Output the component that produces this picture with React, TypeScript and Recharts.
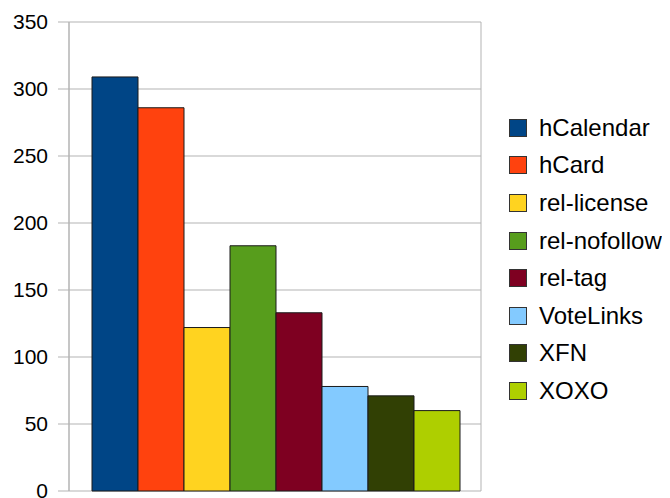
import React from 'react';
import { BarChart, Bar, XAxis, YAxis, CartesianGrid, Legend } from 'recharts';

const seriesNames = ['hCalendar', 'hCard', 'rel-license', 'rel-nofollow', 'rel-tag', 'VoteLinks', 'XFN', 'XOXO'];
const seriesValues = [309, 286, 122, 183, 133, 78, 71, 60];
const seriesColors = ['#004586', '#ff420e', '#ffd320', '#579d1c', '#7e0021', '#83caff', '#314004', '#aecf00'];
const yTicks = [0, 50, 100, 150, 200, 250, 300, 350];

const row: Record<string, any> = { name: '' };
seriesNames.forEach((n, i) => {
  row[n] = seriesValues[i];
});
const data = [row];

const FONT = '"Liberation Sans", Arial, sans-serif';

const renderLegend = () => (
  <div style={{ fontFamily: FONT }}>
    {seriesNames.map((n, i) => (
      <div key={n} style={{ height: 37.6, display: 'flex', alignItems: 'center' }}>
        <div
          style={{
            width: 18,
            height: 18,
            background: seriesColors[i],
            border: '1px solid #333',
            boxSizing: 'border-box',
            marginRight: 12,
            flex: 'none',
          }}
        />
        <span style={{ fontSize: 24, color: '#000', whiteSpace: 'nowrap' }}>{n}</span>
      </div>
    ))}
  </div>
);

export default function App() {
  return (
    <BarChart
      width={662}
      height={490}
      data={data}
      margin={{ top: 14, right: 189, bottom: 7, left: 0 }}
      barCategoryGap={23}
      barGap={0}
    >
      <CartesianGrid
        stroke="#b3b3b3"
        verticalCoordinatesGenerator={({ offset }: any) => [offset.left, offset.left + offset.width]}
      />
      <XAxis dataKey="name" hide />
      <YAxis
        domain={[0, 350]}
        ticks={yTicks}
        width={61}
        tickSize={11}
        tickMargin={10}
        axisLine={{ stroke: '#b3b3b3' }}
        tickLine={{ stroke: '#b3b3b3' }}
        tick={{ fontFamily: FONT, fontSize: 21, fill: '#000' }}
        interval={0}
      />
      <Legend
        layout="vertical"
        align="center"
        verticalAlign="middle"
        content={renderLegend}
        wrapperStyle={{ position: 'absolute', left: 501, top: 101, width: 161 }}
      />
      {seriesNames.map((n, i) => (
        <Bar
          key={n}
          dataKey={n}
          name={n}
          fill={seriesColors[i]}
          stroke="#1a1a1a"
          strokeWidth={1}
          isAnimationActive={false}
        />
      ))}
    </BarChart>
  );
}
